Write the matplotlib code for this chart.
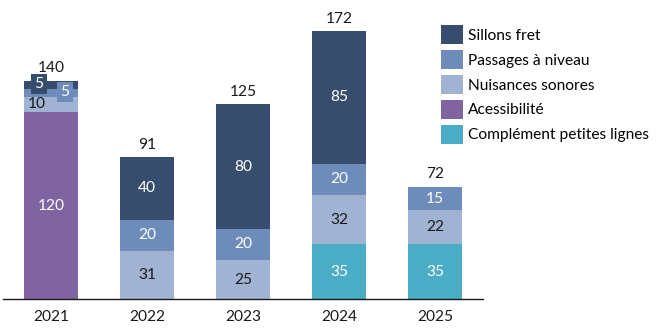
import matplotlib
matplotlib.use("Agg")
import matplotlib.pyplot as plt
import numpy as np

years = ["2021", "2022", "2023", "2024", "2025"]
complement = [0, 0, 0, 35, 35]
accessibilite = [120, 0, 0, 0, 0]
nuisances = [10, 31, 25, 32, 22]
passages = [5, 20, 20, 20, 15]
sillons = [5, 40, 80, 85, 0]
totals = [140, 91, 125, 172, 72]

series = [
    ("Complément petites lignes", complement, "#4BACC6", "white"),
    ("Acessibilité", accessibilite, "#8064A2", "white"),
    ("Nuisances sonores", nuisances, "#A0B3D2", "#1a1a1a"),
    ("Passages à niveau", passages, "#6D8CBA", "white"),
    ("Sillons fret", sillons, "#374D6E", "white"),
]

plt.rcParams['font.family'] = ['Lato', 'DejaVu Sans']
FS = 11.2

fig = plt.figure(figsize=(6.59, 3.31), dpi=100)
ax = fig.add_axes([0.0046, 0.0967, 0.7284, 0.875])

x = np.arange(len(years))
width = 0.57
bottom = np.zeros(len(years))
handles = {}
for name, vals, color, tcol in series:
    vals = np.array(vals, dtype=float)
    bars = ax.bar(x, vals, width, bottom=bottom, color=color, label=name)
    handles[name] = bars
    for i, v in enumerate(vals):
        if v <= 0:
            continue
        yc = bottom[i] + v / 2
        if i == 0 and name == "Sillons fret":
            ax.text(i - 0.125, 138, f"{int(v)}", ha="center", va="center",
                    color="white", fontsize=FS,
                    bbox=dict(boxstyle="square,pad=0.2", fc=color, ec="none"))
        elif i == 0 and name == "Passages à niveau":
            ax.text(i + 0.146, 133, f"{int(v)}", ha="center", va="center",
                    color="white", fontsize=FS,
                    bbox=dict(boxstyle="square,pad=0.2", fc=color, ec="none"))
        elif i == 0 and name == "Nuisances sonores":
            ax.text(i - 0.146, 125, f"{int(v)}", ha="center", va="center",
                    color=tcol, fontsize=FS)
        else:
            ax.text(i, yc, f"{int(v)}", ha="center", va="center",
                    color=tcol, fontsize=FS)
    bottom += vals

for i, t in enumerate(totals):
    ax.annotate(f"{t}", (i, t), xytext=(0, 4), textcoords="offset points",
                ha="center", va="bottom", fontsize=FS, color="#1a1a1a")

ax.set_xlim(-0.5, 4.5)
ax.set_ylim(0, 186)
ax.set_xticks(x)
ax.set_xticklabels(years, fontsize=FS, color="#1a1a1a")
ax.tick_params(axis="x", length=0, pad=8)
ax.set_yticks([])
for s in ["top", "right", "left"]:
    ax.spines[s].set_visible(False)
ax.spines["bottom"].set_color("#1a1a1a")
ax.spines["bottom"].set_linewidth(1)

order = ["Sillons fret", "Passages à niveau", "Nuisances sonores", "Acessibilité", "Complément petites lignes"]
fig.legend([handles[n] for n in order], order, loc="upper left",
           bbox_to_anchor=(0.669, 0.925), frameon=False, fontsize=FS,
           handlelength=1.4, handleheight=1.55, labelspacing=0.35,
           handletextpad=0.35, borderpad=0, borderaxespad=0)

fig.savefig("out.png", dpi=100)
